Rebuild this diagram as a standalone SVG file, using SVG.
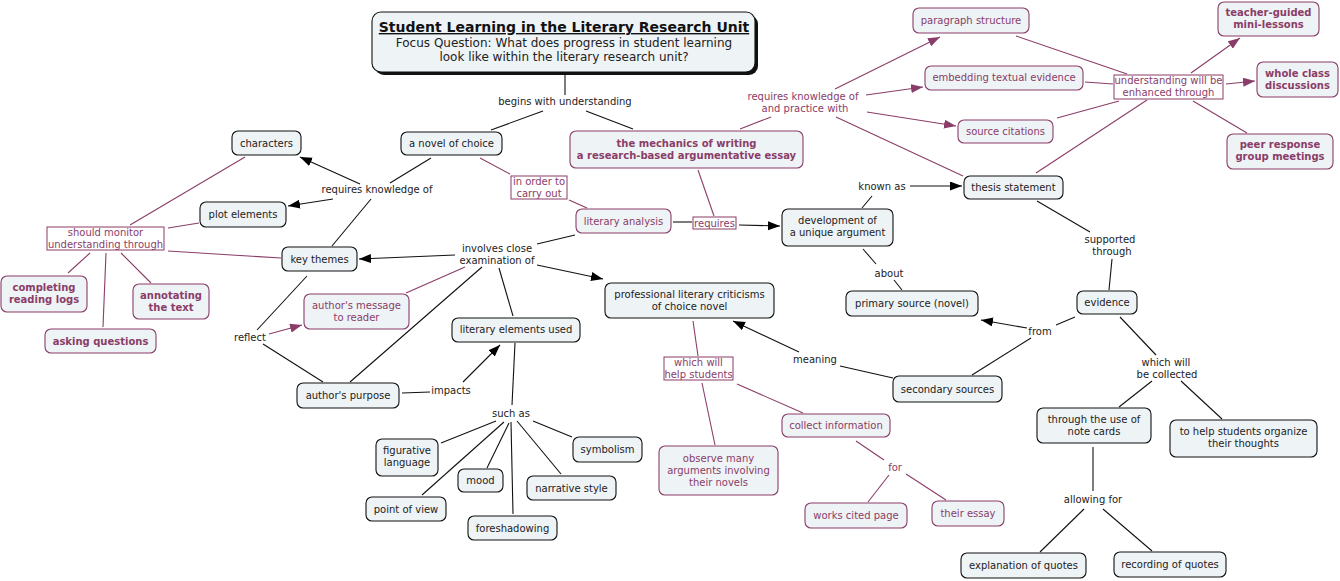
<svg xmlns="http://www.w3.org/2000/svg" width="1340" height="581" viewBox="0 0 1340 581">
<style>
text{font-family:"DejaVu Sans","Verdana",sans-serif;font-size:10px;text-anchor:middle;fill:#222}
.n{fill:#EEF3F6;stroke:#111;stroke-width:1.1}
.p{fill:#EEF3F6;stroke:#8A3D68;stroke-width:1.1}
.lb{fill:#fff;stroke:#8A3D68;stroke-width:1}
.pt{fill:#8A3D68}
.b{font-weight:bold}
.k{stroke:#111;stroke-width:1.1;fill:none}
.q{stroke:#8A3D68;stroke-width:1.1;fill:none}
</style>
<defs>
<marker id="ak" markerUnits="userSpaceOnUse" markerWidth="13" markerHeight="10" refX="12" refY="4.5" orient="auto"><path d="M0,0 L12,4.5 L0,9 z" fill="#000"/></marker>
<marker id="ap" markerUnits="userSpaceOnUse" markerWidth="13" markerHeight="10" refX="12" refY="4.5" orient="auto"><path d="M0,0 L12,4.5 L0,9 z" fill="#8A3D68"/></marker>
</defs>
<rect width="1340" height="581" fill="#fff"/>
<g id="connectors">
<line class="k" x1="565" y1="74" x2="565" y2="95"/>
<line class="k" x1="543" y1="111" x2="491" y2="130"/>
<line class="k" x1="586" y1="111" x2="633" y2="129"/>
<line class="q" x1="740" y1="129" x2="771" y2="117"/>
<line class="q" x1="835" y1="89" x2="940" y2="37" marker-end="url(#ap)"/>
<line class="q" x1="866" y1="95" x2="923" y2="87" marker-end="url(#ap)"/>
<line class="q" x1="867" y1="112" x2="956" y2="126" marker-end="url(#ap)"/>
<line class="q" x1="836" y1="117" x2="963" y2="176"/>
<line class="q" x1="1016" y1="36" x2="1127" y2="74"/>
<line class="q" x1="1085" y1="82" x2="1113" y2="84"/>
<line class="q" x1="1057" y1="118" x2="1119" y2="101"/>
<line class="q" x1="1036" y1="173" x2="1147" y2="100"/>
<line class="q" x1="1191" y1="73" x2="1240" y2="38" marker-end="url(#ap)"/>
<line class="q" x1="1226" y1="84" x2="1255" y2="81" marker-end="url(#ap)"/>
<line class="q" x1="1193" y1="101" x2="1247" y2="133"/>
<line class="q" x1="698" y1="170" x2="714" y2="216"/>
<line class="k" x1="673" y1="222" x2="692" y2="222"/>
<line class="k" x1="739" y1="225" x2="780" y2="226" marker-end="url(#ak)"/>
<line class="k" x1="862" y1="208" x2="872" y2="196"/>
<line class="k" x1="910" y1="186" x2="962" y2="186" marker-end="url(#ak)"/>
<line class="k" x1="863" y1="249" x2="876" y2="264"/>
<line class="k" x1="894" y1="280" x2="902" y2="290"/>
<line class="k" x1="1037" y1="201" x2="1090" y2="232"/>
<line class="k" x1="1112" y1="259" x2="1109" y2="290"/>
<line class="k" x1="1075" y1="317" x2="1056" y2="325"/>
<line class="k" x1="1027" y1="328" x2="981" y2="320" marker-end="url(#ak)"/>
<line class="k" x1="972" y1="375" x2="1031" y2="338"/>
<line class="k" x1="1120" y1="317" x2="1156" y2="355"/>
<line class="k" x1="1152" y1="381" x2="1119" y2="407"/>
<line class="k" x1="1181" y1="381" x2="1222" y2="419"/>
<line class="k" x1="1093" y1="447" x2="1093" y2="491"/>
<line class="k" x1="1084" y1="509" x2="1040" y2="552"/>
<line class="k" x1="1103" y1="509" x2="1152" y2="551"/>
<line class="k" x1="840" y1="366" x2="893" y2="378"/>
<line class="k" x1="799" y1="352" x2="733" y2="321" marker-end="url(#ak)"/>
<line class="q" x1="693" y1="321" x2="698" y2="356"/>
<line class="q" x1="702" y1="383" x2="715" y2="445"/>
<line class="q" x1="737" y1="384" x2="803" y2="413"/>
<line class="q" x1="856" y1="441" x2="884" y2="460"/>
<line class="q" x1="889" y1="475" x2="868" y2="502"/>
<line class="q" x1="906" y1="474" x2="946" y2="500"/>
<line class="q" x1="480" y1="158" x2="510" y2="174"/>
<line class="q" x1="569" y1="200" x2="587" y2="208"/>
<line class="k" x1="431" y1="158" x2="390" y2="183"/>
<line class="k" x1="360" y1="184" x2="300" y2="157" marker-end="url(#ak)"/>
<line class="k" x1="333" y1="199" x2="288" y2="206" marker-end="url(#ak)"/>
<line class="k" x1="371" y1="199" x2="332" y2="246"/>
<line class="k" x1="575" y1="235" x2="537" y2="244"/>
<line class="k" x1="455" y1="255" x2="359" y2="259" marker-end="url(#ak)"/>
<line class="k" x1="537" y1="265" x2="603" y2="279" marker-end="url(#ak)"/>
<line class="q" x1="465" y1="267" x2="406" y2="293"/>
<line class="k" x1="482" y1="267" x2="350" y2="382"/>
<line class="k" x1="499" y1="268" x2="513" y2="316"/>
<line class="k" x1="307" y1="276" x2="257" y2="330"/>
<line class="q" x1="269" y1="334" x2="302" y2="325" marker-end="url(#ap)"/>
<line class="k" x1="263" y1="344" x2="323" y2="382"/>
<line class="q" x1="245" y1="157" x2="130" y2="225"/>
<line class="q" x1="199" y1="223" x2="168" y2="228"/>
<line class="q" x1="281" y1="258" x2="168" y2="251"/>
<line class="q" x1="90" y1="253" x2="68" y2="273"/>
<line class="q" x1="106" y1="253" x2="103" y2="327"/>
<line class="q" x1="121" y1="253" x2="151" y2="283"/>
<line class="k" x1="402" y1="393" x2="430" y2="392"/>
<line class="k" x1="463" y1="382" x2="500" y2="345" marker-end="url(#ak)"/>
<line class="k" x1="515" y1="343" x2="512" y2="405"/>
<line class="k" x1="496" y1="421" x2="441" y2="443"/>
<line class="k" x1="504" y1="422" x2="422" y2="495"/>
<line class="k" x1="509" y1="423" x2="487" y2="468"/>
<line class="k" x1="511" y1="422" x2="513" y2="514"/>
<line class="k" x1="517" y1="421" x2="561" y2="474"/>
<line class="k" x1="533" y1="421" x2="572" y2="437"/>
</g>
<g id="title">
<rect x="375" y="15" width="383" height="60" rx="9" fill="#111"/>
<rect x="372" y="12" width="383" height="60" rx="9" class="n"/>
<text x="564" y="32" class="b" style="font-size:14px;text-decoration:underline;fill:#111">Student Learning in the Literary Research Unit</text>
<text x="564" y="47" style="font-size:12px">Focus Question: What does progress in student learning</text>
<text x="564" y="61" style="font-size:12px">look like within the literary research unit?</text>
</g>
<g id="lbl-begins"><text x="565" y="105">begins with understanding</text></g>
<g id="n-novel"><rect x="401" y="132" width="101" height="23" rx="6" class="n"/><text x="451.5" y="147">a novel of choice</text></g>
<g id="n-mechanics"><rect x="570" y="131" width="233" height="37" rx="6" class="p"/><text x="686.5" y="147" class="pt b">the mechanics of writing</text><text x="686.5" y="159" class="pt b">a research-based argumentative essay</text></g>
<g id="lbl-reqpractice"><text x="803" y="100" class="pt">requires knowledge of</text><text x="805" y="112" class="pt">and practice with</text></g>
<g id="n-paragraph"><rect x="913" y="8" width="116" height="25" rx="6" class="p"/><text x="971" y="24" class="pt">paragraph structure</text></g>
<g id="n-embedding"><rect x="925" y="66" width="158" height="24" rx="6" class="p"/><text x="1004" y="81" class="pt">embedding textual evidence</text></g>
<g id="n-citations"><rect x="958" y="120" width="95" height="23" rx="6" class="p"/><text x="1005.5" y="135" class="pt">source citations</text></g>
<g id="lbl-enhanced"><rect x="1114" y="75" width="109" height="24" class="lb"/><text x="1168.5" y="84" class="pt">understanding will be</text><text x="1168.5" y="96" class="pt">enhanced through</text></g>
<g id="n-teacher"><rect x="1218" y="2" width="101" height="34" rx="6" class="p"/><text x="1268.5" y="16" class="pt b">teacher-guided</text><text x="1268.5" y="28" class="pt b">mini-lessons</text></g>
<g id="n-whole"><rect x="1257" y="62" width="81" height="35" rx="6" class="p"/><text x="1297.5" y="77" class="pt b">whole class</text><text x="1297.5" y="89" class="pt b">discussions</text></g>
<g id="n-peer"><rect x="1227" y="134" width="106" height="35" rx="6" class="p"/><text x="1280" y="148" class="pt b">peer response</text><text x="1280" y="160" class="pt b">group meetings</text></g>
<g id="n-thesis"><rect x="964" y="176" width="99" height="23" rx="6" class="n"/><text x="1013.5" y="191">thesis statement</text></g>
<g id="lbl-known"><text x="882" y="190">known as</text></g>
<g id="n-development"><rect x="782" y="209" width="111" height="37" rx="6" class="n"/><text x="837.5" y="224">development of</text><text x="837.5" y="236">a unique argument</text></g>
<g id="n-litanalysis"><rect x="576" y="209" width="95" height="24" rx="6" class="p"/><text x="623.5" y="225" class="pt">literary analysis</text></g>
<g id="lbl-requires"><rect x="693" y="217" width="43" height="12" class="lb"/><text x="714.5" y="226.5" class="pt">requires</text></g>
<g id="lbl-inorder"><rect x="511" y="176" width="56" height="23" class="lb"/><text x="539" y="185" class="pt">in order to</text><text x="539" y="197" class="pt">carry out</text></g>
<g id="n-professional"><rect x="605" y="283" width="169" height="35" rx="6" class="n"/><text x="689.5" y="298">professional literary criticisms</text><text x="689.5" y="310">of choice novel</text></g>
<g id="n-primary"><rect x="846" y="291" width="132" height="25" rx="6" class="n"/><text x="912" y="307">primary source (novel)</text></g>
<g id="lbl-about"><text x="889" y="277">about</text></g>
<g id="lbl-supported"><text x="1110" y="243">supported</text><text x="1112" y="255">through</text></g>
<g id="n-evidence"><rect x="1077" y="291" width="60" height="23" rx="6" class="n"/><text x="1107" y="306">evidence</text></g>
<g id="lbl-from"><text x="1040" y="335">from</text></g>
<g id="n-secondary"><rect x="893" y="376" width="109" height="26" rx="6" class="n"/><text x="947.5" y="393">secondary sources</text></g>
<g id="lbl-collected"><text x="1166" y="366">which will</text><text x="1167" y="378">be collected</text></g>
<g id="n-notecards"><rect x="1037" y="408" width="114" height="35" rx="6" class="n"/><text x="1094" y="423">through the use of</text><text x="1094" y="435">note cards</text></g>
<g id="n-organize"><rect x="1170" y="420" width="147" height="37" rx="6" class="n"/><text x="1243.5" y="435">to help students organize</text><text x="1243.5" y="447">their thoughts</text></g>
<g id="lbl-allowing"><text x="1093" y="503">allowing for</text></g>
<g id="n-explanation"><rect x="961" y="553" width="125" height="25" rx="6" class="n"/><text x="1023.5" y="569">explanation of quotes</text></g>
<g id="n-recording"><rect x="1114" y="552" width="112" height="25" rx="6" class="n"/><text x="1170" y="568">recording of quotes</text></g>
<g id="lbl-meaning"><text x="815" y="363">meaning</text></g>
<g id="lbl-helpstudents"><rect x="664" y="357" width="69" height="23" class="lb"/><text x="698.5" y="366" class="pt">which will</text><text x="698.5" y="378" class="pt">help students</text></g>
<g id="n-collect"><rect x="782" y="414" width="108" height="23" rx="6" class="p"/><text x="836" y="429" class="pt">collect information</text></g>
<g id="n-observe"><rect x="659" y="446" width="119" height="49" rx="6" class="p"/><text x="718.5" y="462" class="pt">observe many</text><text x="718.5" y="474" class="pt">arguments involving</text><text x="718.5" y="486" class="pt">their novels</text></g>
<g id="lbl-for"><text x="895" y="471" class="pt">for</text></g>
<g id="n-workscited"><rect x="805" y="503" width="102" height="25" rx="6" class="p"/><text x="856" y="519" class="pt">works cited page</text></g>
<g id="n-essay"><rect x="932" y="501" width="72" height="25" rx="6" class="p"/><text x="968" y="517" class="pt">their essay</text></g>
<g id="lbl-reqknow"><text x="377" y="193">requires knowledge of</text></g>
<g id="n-characters"><rect x="232" y="131" width="69" height="24" rx="6" class="n"/><text x="266.5" y="147">characters</text></g>
<g id="n-plot"><rect x="200" y="202" width="86" height="25" rx="6" class="n"/><text x="243" y="218">plot elements</text></g>
<g id="lbl-monitor"><rect x="47" y="227" width="117" height="23" class="lb"/><text x="105.5" y="236" class="pt">should monitor</text><text x="105.5" y="248" class="pt">understanding through</text></g>
<g id="n-keythemes"><rect x="282" y="247" width="75" height="24" rx="6" class="n"/><text x="319.5" y="263">key themes</text></g>
<g id="n-logs"><rect x="1" y="276" width="86" height="36" rx="6" class="p"/><text x="44" y="291" class="pt b">completing</text><text x="44" y="303" class="pt b">reading logs</text></g>
<g id="n-annotating"><rect x="133" y="284" width="76" height="35" rx="6" class="p"/><text x="171" y="299" class="pt b">annotating</text><text x="171" y="311" class="pt b">the text</text></g>
<g id="n-asking"><rect x="45" y="329" width="111" height="24" rx="6" class="p"/><text x="100.5" y="345" class="pt b">asking questions</text></g>
<g id="n-message"><rect x="304" y="294" width="105" height="35" rx="6" class="p"/><text x="356.5" y="309" class="pt">author's message</text><text x="356.5" y="321" class="pt">to reader</text></g>
<g id="lbl-reflect"><text x="250" y="341">reflect</text></g>
<g id="lbl-involves"><text x="497" y="252">involves close</text><text x="497" y="264">examination of</text></g>
<g id="n-literary"><rect x="452" y="318" width="128" height="24" rx="6" class="n"/><text x="516" y="333">literary elements used</text></g>
<g id="n-purpose"><rect x="297" y="383" width="102" height="25" rx="6" class="n"/><text x="348" y="399">author's purpose</text></g>
<g id="lbl-impacts"><text x="451" y="394">impacts</text></g>
<g id="lbl-suchas"><text x="511" y="417">such as</text></g>
<g id="n-figurative"><rect x="376" y="439" width="62" height="37" rx="6" class="n"/><text x="407" y="454">figurative</text><text x="407" y="466">language</text></g>
<g id="n-symbolism"><rect x="573" y="437" width="69" height="25" rx="6" class="n"/><text x="607.5" y="453">symbolism</text></g>
<g id="n-mood"><rect x="458" y="469" width="45" height="23" rx="6" class="n"/><text x="480.5" y="484">mood</text></g>
<g id="n-narrative"><rect x="527" y="476" width="89" height="24" rx="6" class="n"/><text x="571.5" y="492">narrative style</text></g>
<g id="n-pov"><rect x="366" y="497" width="80" height="24" rx="6" class="n"/><text x="406" y="513">point of view</text></g>
<g id="n-foreshadowing"><rect x="468" y="516" width="89" height="24" rx="6" class="n"/><text x="512.5" y="532">foreshadowing</text></g>
</svg>
